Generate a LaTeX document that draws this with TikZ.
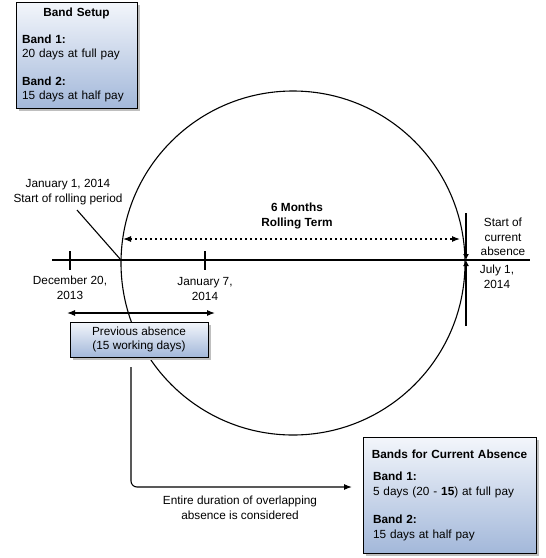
\documentclass[tikz,border=0pt]{standalone}
\usepackage{fontspec}
\setmainfont{Liberation Sans}
\usetikzlibrary{arrows.meta,shadows}

\definecolor{boxtop}{HTML}{F3F6FB}
\definecolor{boxbot}{HTML}{A3B8DA}

\begin{document}
\begin{tikzpicture}[x=1pt,y=-1pt,>={Latex[length=8pt,width=6pt]},line width=1.1pt]
    \tikzstyle{infobox}=[draw,line width=1pt,top color=boxtop,bottom color=boxbot,
        drop shadow={shadow xshift=3pt,shadow yshift=-3pt,fill=black!25,opacity=1},
        inner sep=0pt,font=\fontsize{11.8}{14.5}\selectfont]
    \tikzstyle{lbl}=[align=center,inner sep=0pt,font=\fontsize{11.8}{14.5}\selectfont]

    \useasboundingbox (0,0) rectangle (546,558);

    % Rolling period
    \draw (293,263) circle[radius=172];

    % Time line
    \coordinate (axl) at (52,260);
    \coordinate (axr) at (530,260);
    \coordinate (roll) at (121,260);
    \coordinate (cur) at (466,260);
    \draw (axl) -- (axr);
    \draw (70,251) -- (70,270);
    \draw (205,251) -- (205,270);
    \draw[-{Latex[length=6pt,width=6pt]}] (466,213) -- (cur);
    \draw[-{Latex[length=6pt,width=6pt]}] (466,326) -- (cur);

    % Labels
    \node[lbl] (janlbl) at (68,192) {January 1, 2014\\Start of rolling period};
    \node[lbl] (declbl) at (70,288) {December 20,\\2013};
    \node[lbl] (jansvn) at (205,289) {January 7,\\2014};
    \node[lbl,font=\fontsize{11.8}{14.5}\selectfont\bfseries] (term) at (297,216) {6 Months\\Rolling Term};
    \node[lbl] (curlbl) at (503,237) {Start of\\current\\absence};
    \node[lbl] (jullbl) at (497,277) {July 1,\\2014};
    \node[lbl] (entlbl) at (240,508) {Entire duration of overlapping\\absence is considered};

    \coordinate (ptr) at (77,210);
    \draw (ptr) -- (roll);

    % Rolling term and previous absence
    \coordinate (rtl) at (123,239);
    \coordinate (rtr) at (460,239);
    \draw[<->,dash pattern=on 1.6pt off 3.4pt] (rtl) -- (rtr);
    \coordinate (pal) at (67,313);
    \coordinate (par) at (215,313);
    \draw[<->] (pal) -- (par);

    % Boxes
    \node[infobox,minimum width=138pt,minimum height=35pt,align=center] (prev) at (139,339.5)
        {Previous absence\\(15 working days)};
    \node[infobox,minimum width=121pt,minimum height=106pt,text width=109pt,align=left] (setup) at (76.5,55)
        {\makebox[\linewidth]{\textbf{Band Setup}}\\[12pt]
         \textbf{Band 1:}\\20 days at full pay\\[13pt]
         \textbf{Band 2:}\\15 days at half pay};
    \node[infobox,minimum width=173pt,minimum height=116pt,text width=153pt,align=left] (bands) at (449.5,495)
        {\makebox[\linewidth]{\textbf{Bands for Current Absence}}\\[8pt]
         \textbf{Band 1:}\\5 days (20 - \textbf{15}) at full pay\\[14pt]
         \textbf{Band 2:}\\15 days at half pay};

    % Overlap
    \coordinate (cbeg) at (131,367);
    \coordinate (cend) at (352,487);
    \draw[->,rounded corners=6pt] (cbeg) |- (cend);
\end{tikzpicture}
\end{document}
